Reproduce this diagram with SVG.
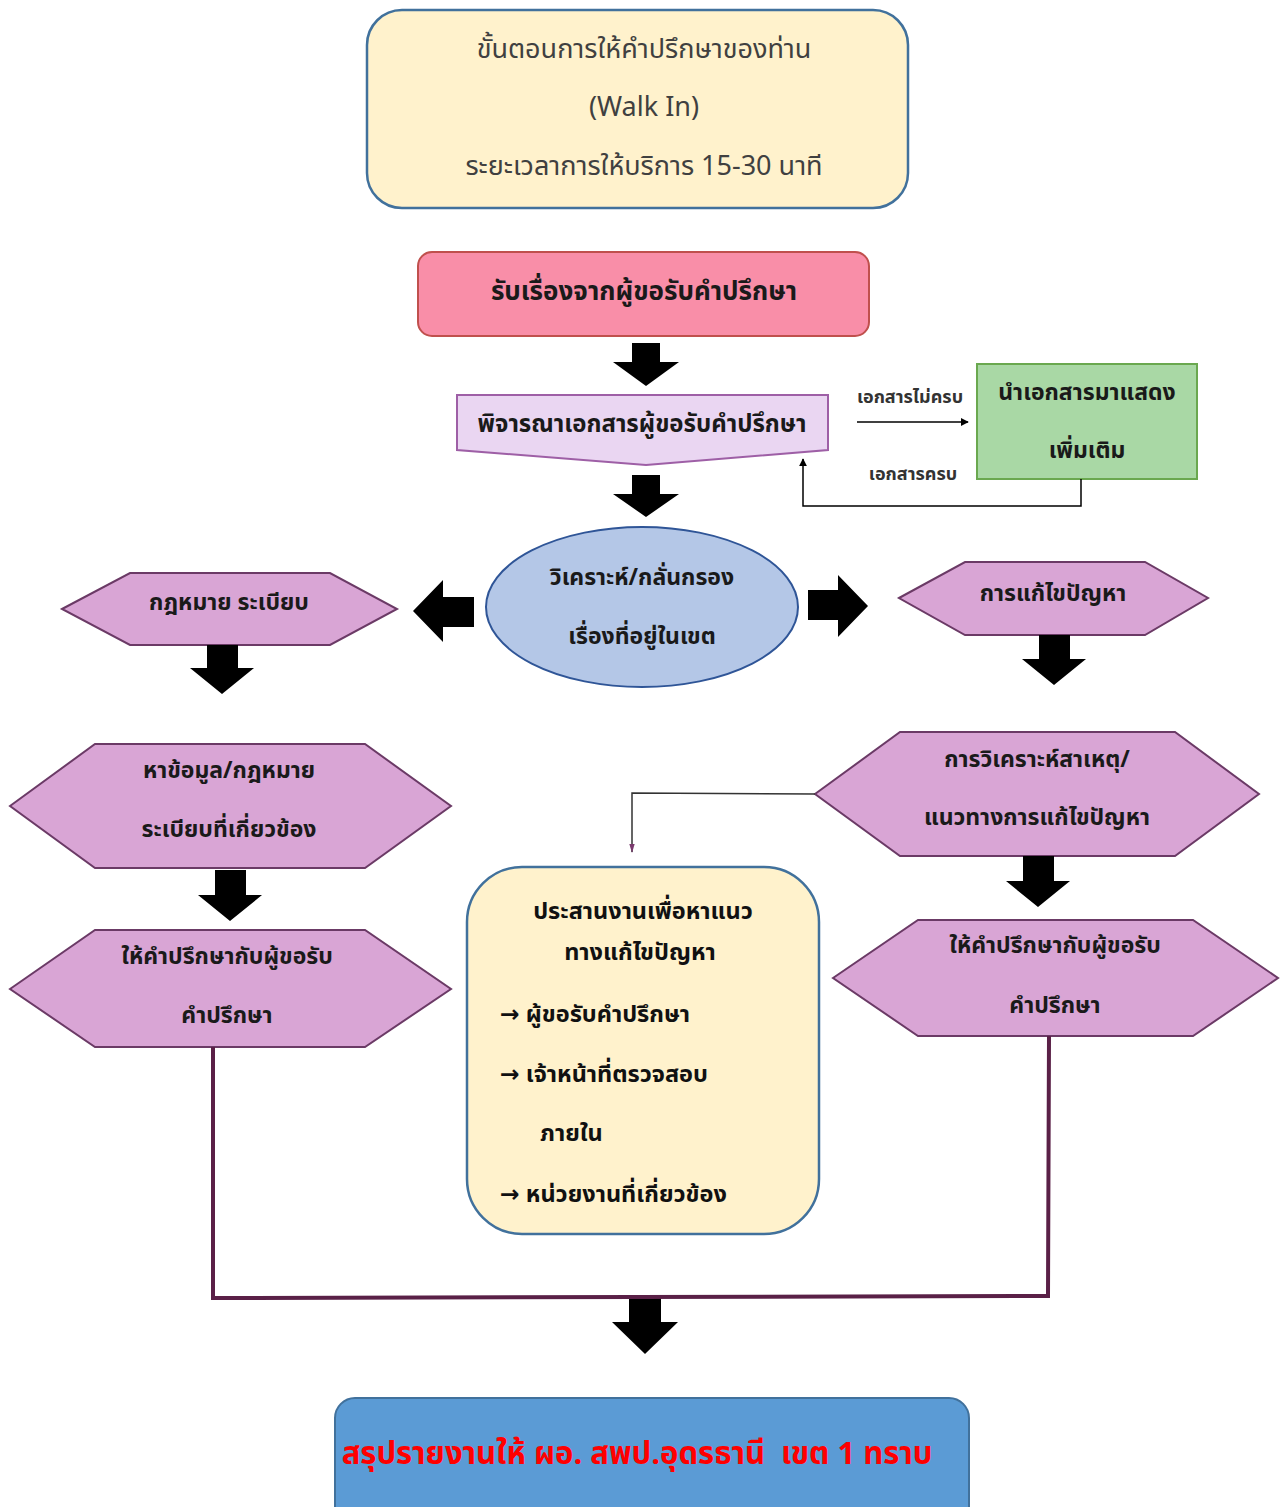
<svg xmlns="http://www.w3.org/2000/svg" width="1280" height="1507" viewBox="0 0 1280 1507">
<style>
text{font-family:"Noto Sans Thai","Noto Sans","DejaVu Sans","Liberation Sans",sans-serif;text-anchor:middle;dominant-baseline:central;fill:#1a1a1a}
.t{font-size:27px;fill:#404040}
.n{font-size:23px;font-weight:bold}
.c{font-size:23.5px;font-weight:bold;fill:#111}
.s{font-size:18px;font-weight:bold;fill:#333}
.hex{fill:#d9a5d5;stroke:#6b3a66;stroke-width:2}
.blk{fill:#000}
.cream{fill:#fff2cc;stroke:#41719c;stroke-width:2.5}
.l{text-anchor:start}
</style>
<defs>
<marker id="ah" viewBox="0 0 10 10" refX="9" refY="5" markerWidth="8" markerHeight="8" orient="auto-start-reverse" markerUnits="userSpaceOnUse"><path d="M0,0 L10,5 L0,10 z" fill="#000"/></marker>
<marker id="ap" viewBox="0 0 10 10" refX="9" refY="5" markerWidth="9" markerHeight="9" orient="auto" markerUnits="userSpaceOnUse"><path d="M0,2 L10,5 L0,8 z" fill="#7a3a6e"/></marker>
</defs>

<g id="title">
<rect x="367" y="10" width="541" height="198" rx="35" class="cream"/>
<text x="644" y="49" class="t">ขั้นตอนการให้คำปรึกษาของท่าน</text>
<text x="644" y="107" class="t">(Walk In)</text>
<text x="644" y="166" class="t">ระยะเวลาการให้บริการ 15-30 นาที</text>
</g>

<g id="receive">
<rect x="418" y="252" width="451" height="84" rx="14" fill="#f98ea8" stroke="#c0504d" stroke-width="2"/>
<text x="644" y="292" class="n" style="font-size:26px">รับเรื่องจากผู้ขอรับคำปรึกษา</text>
</g>

<g id="consider">
<path d="M457,395 H828 V450 L646,465 L457,450 Z" fill="#ead6f2" stroke="#9e5fa6" stroke-width="2"/>
<text x="642" y="425" class="n" style="font-size:24px">พิจารณาเอกสารผู้ขอรับคำปรึกษา</text>
</g>

<g id="more-docs">
<rect x="977" y="364" width="220" height="115" fill="#a9d8a5" stroke="#6aa84f" stroke-width="2"/>
<text x="1087" y="393" class="n">นำเอกสารมาแสดง</text>
<text x="1087" y="451" class="n">เพิ่มเติม</text>
</g>

<g id="analyze">
<ellipse cx="642" cy="607" rx="156" ry="80" fill="#b4c7e7" stroke="#2f5597" stroke-width="2"/>
<text x="642" y="578" class="n">วิเคราะห์/กลั่นกรอง</text>
<text x="642" y="637" class="n">เรื่องที่อยู่ในเขต</text>
</g>

<g id="law">
<polygon points="62,609 130,573 330,573 397,609 330,645 130,645" class="hex"/>
<text x="229" y="603" class="n">กฎหมาย ระเบียบ</text>
</g>

<g id="solve">
<polygon points="899,598 965,562 1145,562 1208,598 1145,635 965,635" class="hex"/>
<text x="1053" y="594" class="n">การแก้ไขปัญหา</text>
</g>

<g id="find-info">
<polygon points="10,806 95,744 365,744 451,806 365,868 95,868" class="hex"/>
<text x="229" y="771" class="n">หาข้อมูล/กฎหมาย</text>
<text x="229" y="830" class="n">ระเบียบที่เกี่ยวข้อง</text>
</g>

<g id="advise-left">
<polygon points="10,989 95,930 365,930 451,989 365,1047 95,1047" class="hex"/>
<text x="227" y="957" class="n">ให้คำปรึกษากับผู้ขอรับ</text>
<text x="227" y="1016" class="n">คำปรึกษา</text>
</g>

<g id="cause">
<polygon points="815,794 900,732 1175,732 1259,794 1175,856 900,856" class="hex"/>
<text x="1037" y="760" class="n">การวิเคราะห์สาเหตุ/</text>
<text x="1037" y="818" class="n">แนวทางการแก้ไขปัญหา</text>
</g>

<g id="advise-right">
<polygon points="833,978 918,920 1193,920 1278,978 1193,1036 918,1036" class="hex"/>
<text x="1055" y="946" class="n">ให้คำปรึกษากับผู้ขอรับ</text>
<text x="1055" y="1006" class="n">คำปรึกษา</text>
</g>

<g id="coordinate">
<rect x="467" y="867" width="352" height="367" rx="55" class="cream"/>
<text x="643" y="912" class="c">ประสานงานเพื่อหาแนว</text>
<text x="640" y="953" class="c">ทางแก้ไขปัญหา</text>
<text x="500" y="1015" class="c l">→ ผู้ขอรับคำปรึกษา</text>
<text x="500" y="1075" class="c l">→ เจ้าหน้าที่ตรวจสอบ</text>
<text x="540" y="1134" class="c l">ภายใน</text>
<text x="500" y="1195" class="c l">→ หน่วยงานที่เกี่ยวข้อง</text>
</g>

<g id="report">
<rect x="335" y="1398" width="634" height="130" rx="20" fill="#5b9bd5" stroke="#41719c" stroke-width="2"/>
<text x="637" y="1454" xml:space="preserve" style="font-size:31px;font-weight:bold;fill:#ff0000;white-space:pre">สรุปรายงานให้ ผอ. สพป.อุดรธานี  เขต 1 ทราบ</text>
</g>

<g id="connectors">
<path class="blk" d="M632,343 H660 V362 H679 L646,386 L613,362 H632 Z"/>
<path class="blk" d="M632,475 H660 V494 H679 L646,517 L613,494 H632 Z"/>
<path class="blk" d="M207,645 H238 V668 H254 L222,694 L190,668 H207 Z"/>
<path class="blk" d="M1039,635 H1070 V659 H1086 L1054,685 L1022,659 H1039 Z"/>
<path class="blk" d="M215,870 H246 V895 H262 L230,921 L198,895 H215 Z"/>
<path class="blk" d="M1023,856 H1054 V881 H1070 L1038,907 L1006,881 H1023 Z"/>
<path class="blk" d="M629,1296 H661 V1322 H678 L645,1354 L612,1322 H629 Z"/>
<path class="blk" d="M474,597 V627 H443 V642 L413,611 L443,580 V597 Z"/>
<path class="blk" d="M808,590 V620 H838 V637 L868,606 L838,575 V590 Z"/>
<line x1="857" y1="422" x2="968" y2="422" stroke="#000" stroke-width="1.5" marker-end="url(#ah)"/>
<text x="910" y="397" class="s">เอกสารไม่ครบ</text>
<text x="913" y="474" class="s">เอกสารครบ</text>
<polyline points="1081,479 1081,506 803,506 803,459" fill="none" stroke="#000" stroke-width="1.5" marker-end="url(#ah)"/>
<polyline points="815,794 632,793 632,852" fill="none" stroke="#333" stroke-width="1.5" marker-end="url(#ap)"/>
<polyline points="213,1047 213,1298 1048,1296 1049,1036" fill="none" stroke="#5a2047" stroke-width="4"/>
</g>
</svg>
